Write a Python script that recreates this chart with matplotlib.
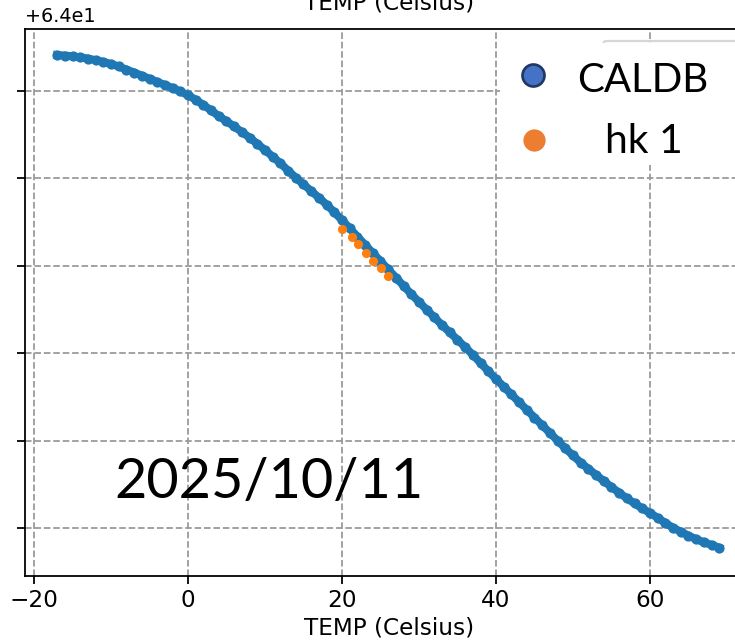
import matplotlib
matplotlib.use('Agg')
import matplotlib.pyplot as plt
from matplotlib.lines import Line2D
from matplotlib.patches import Rectangle
from matplotlib.ticker import MultipleLocator

# CALDB curve (1 C steps)
temp_caldb = list(range(-17, 70))
val_caldb = [
    64.005412, 64.005405, 64.005397, 64.005384, 64.005371, 64.005353, 64.005333,
    64.005309, 64.005280, 64.005245, 64.005211, 64.005175, 64.005140, 64.005104,
    64.005069, 64.005034, 64.004994, 64.004953, 64.004899, 64.004841, 64.004777,
    64.004713, 64.004653, 64.004594, 64.004530, 64.004466, 64.004396, 64.004325,
    64.004248, 64.004173, 64.004089, 64.004008, 64.003931, 64.003856, 64.003779,
    64.003700, 64.003612, 64.003523, 64.003429, 64.003334, 64.003240, 64.003146,
    64.003053, 64.002959, 64.002865, 64.002771, 64.002676, 64.002586, 64.002498,
    64.002410, 64.002321, 64.002237, 64.002154, 64.002069, 64.001981, 64.001888,
    64.001794, 64.001705, 64.001617, 64.001529, 64.001440, 64.001352, 64.001264,
    64.001176, 64.001088, 64.001000, 64.000912, 64.000830, 64.000748, 64.000678,
    64.000608, 64.000538, 64.000468, 64.000404, 64.000340, 64.000281, 64.000224,
    64.000172, 64.000117, 64.000058, 64.000003, 63.999957, 63.999913, 63.999872,
    63.999836, 63.999807, 63.999775,
]

# hk 1 points
temp_hk = [20.0, 21.3, 22.1, 23.1, 24.0, 25.1, 26.0]
val_hk = [64.003421, 64.003330, 64.003249, 64.003146, 64.003055, 64.002975, 64.002883]

legend_labels = ['CALDB', 'hk 1']
date_label = '2025/10/11'

plt.rcParams['font.size'] = 10.4

W, H = 735, 640
fig = plt.figure(figsize=(W / 160, H / 160), dpi=160)
ax = fig.add_axes([25 / W, 64 / H, 728 / W, 547 / H])

ax.plot(temp_caldb, val_caldb, 'o-', color='#1f77b4', ms=3.6, lw=3.6,
        label=legend_labels[0], zorder=2)
ax.plot(temp_hk, val_hk, 'o', ls='none', color='#ff7f0e', ms=3.1,
        label=legend_labels[1], zorder=3)

ax.set_xlim(-21.17, 73.38)
ax.set_ylim(63.999451, 64.005709)
ax.yaxis.set_major_locator(MultipleLocator(0.001))
ax.grid(True, ls='--', color='#999999', lw=0.8)
ax.set_xlabel('TEMP (Celsius)', labelpad=2)
ax.set_title('TEMP (Celsius)', fontsize='medium', y=1.0, pad=9)
ax.tick_params(axis='x', pad=2.2)
ax.tick_params(axis='y', labelcolor='none')
ax.yaxis.offsetText.set_color('black')
ax.yaxis.offsetText.set_fontsize(8.7)
ax.legend(loc='upper right', handlelength=1)

# big pasted-on legend and date
fig.add_artist(Rectangle((500 / W, 1 - 165 / H), 240 / W, 122 / H,
                         transform=fig.transFigure, facecolor='white',
                         edgecolor='none', zorder=1))
fig.add_artist(Line2D([533 / W], [1 - 75 / H], transform=fig.transFigure,
                      marker='o', ms=9.9, mfc='#4472C4', mec='#1F3864', mew=1.2,
                      zorder=2))
fig.add_artist(Line2D([534 / W], [1 - 140 / H], transform=fig.transFigure,
                      marker='o', ms=9, mfc='#ED7D31', mec='#ED7D31', zorder=2))
fig.text(643 / W, 1 - 92 / H, legend_labels[0], family='Lato', fontsize=18.1,
         ha='center', va='baseline')
fig.text(643.5 / W, 1 - 153 / H, legend_labels[1], family='Lato', fontsize=18.4,
         ha='center', va='baseline')
fig.text(269 / W, 1 - 498 / H, date_label, family='Lato', fontsize=25.1,
         ha='center', va='baseline')

fig.savefig('out.png', dpi=160)
